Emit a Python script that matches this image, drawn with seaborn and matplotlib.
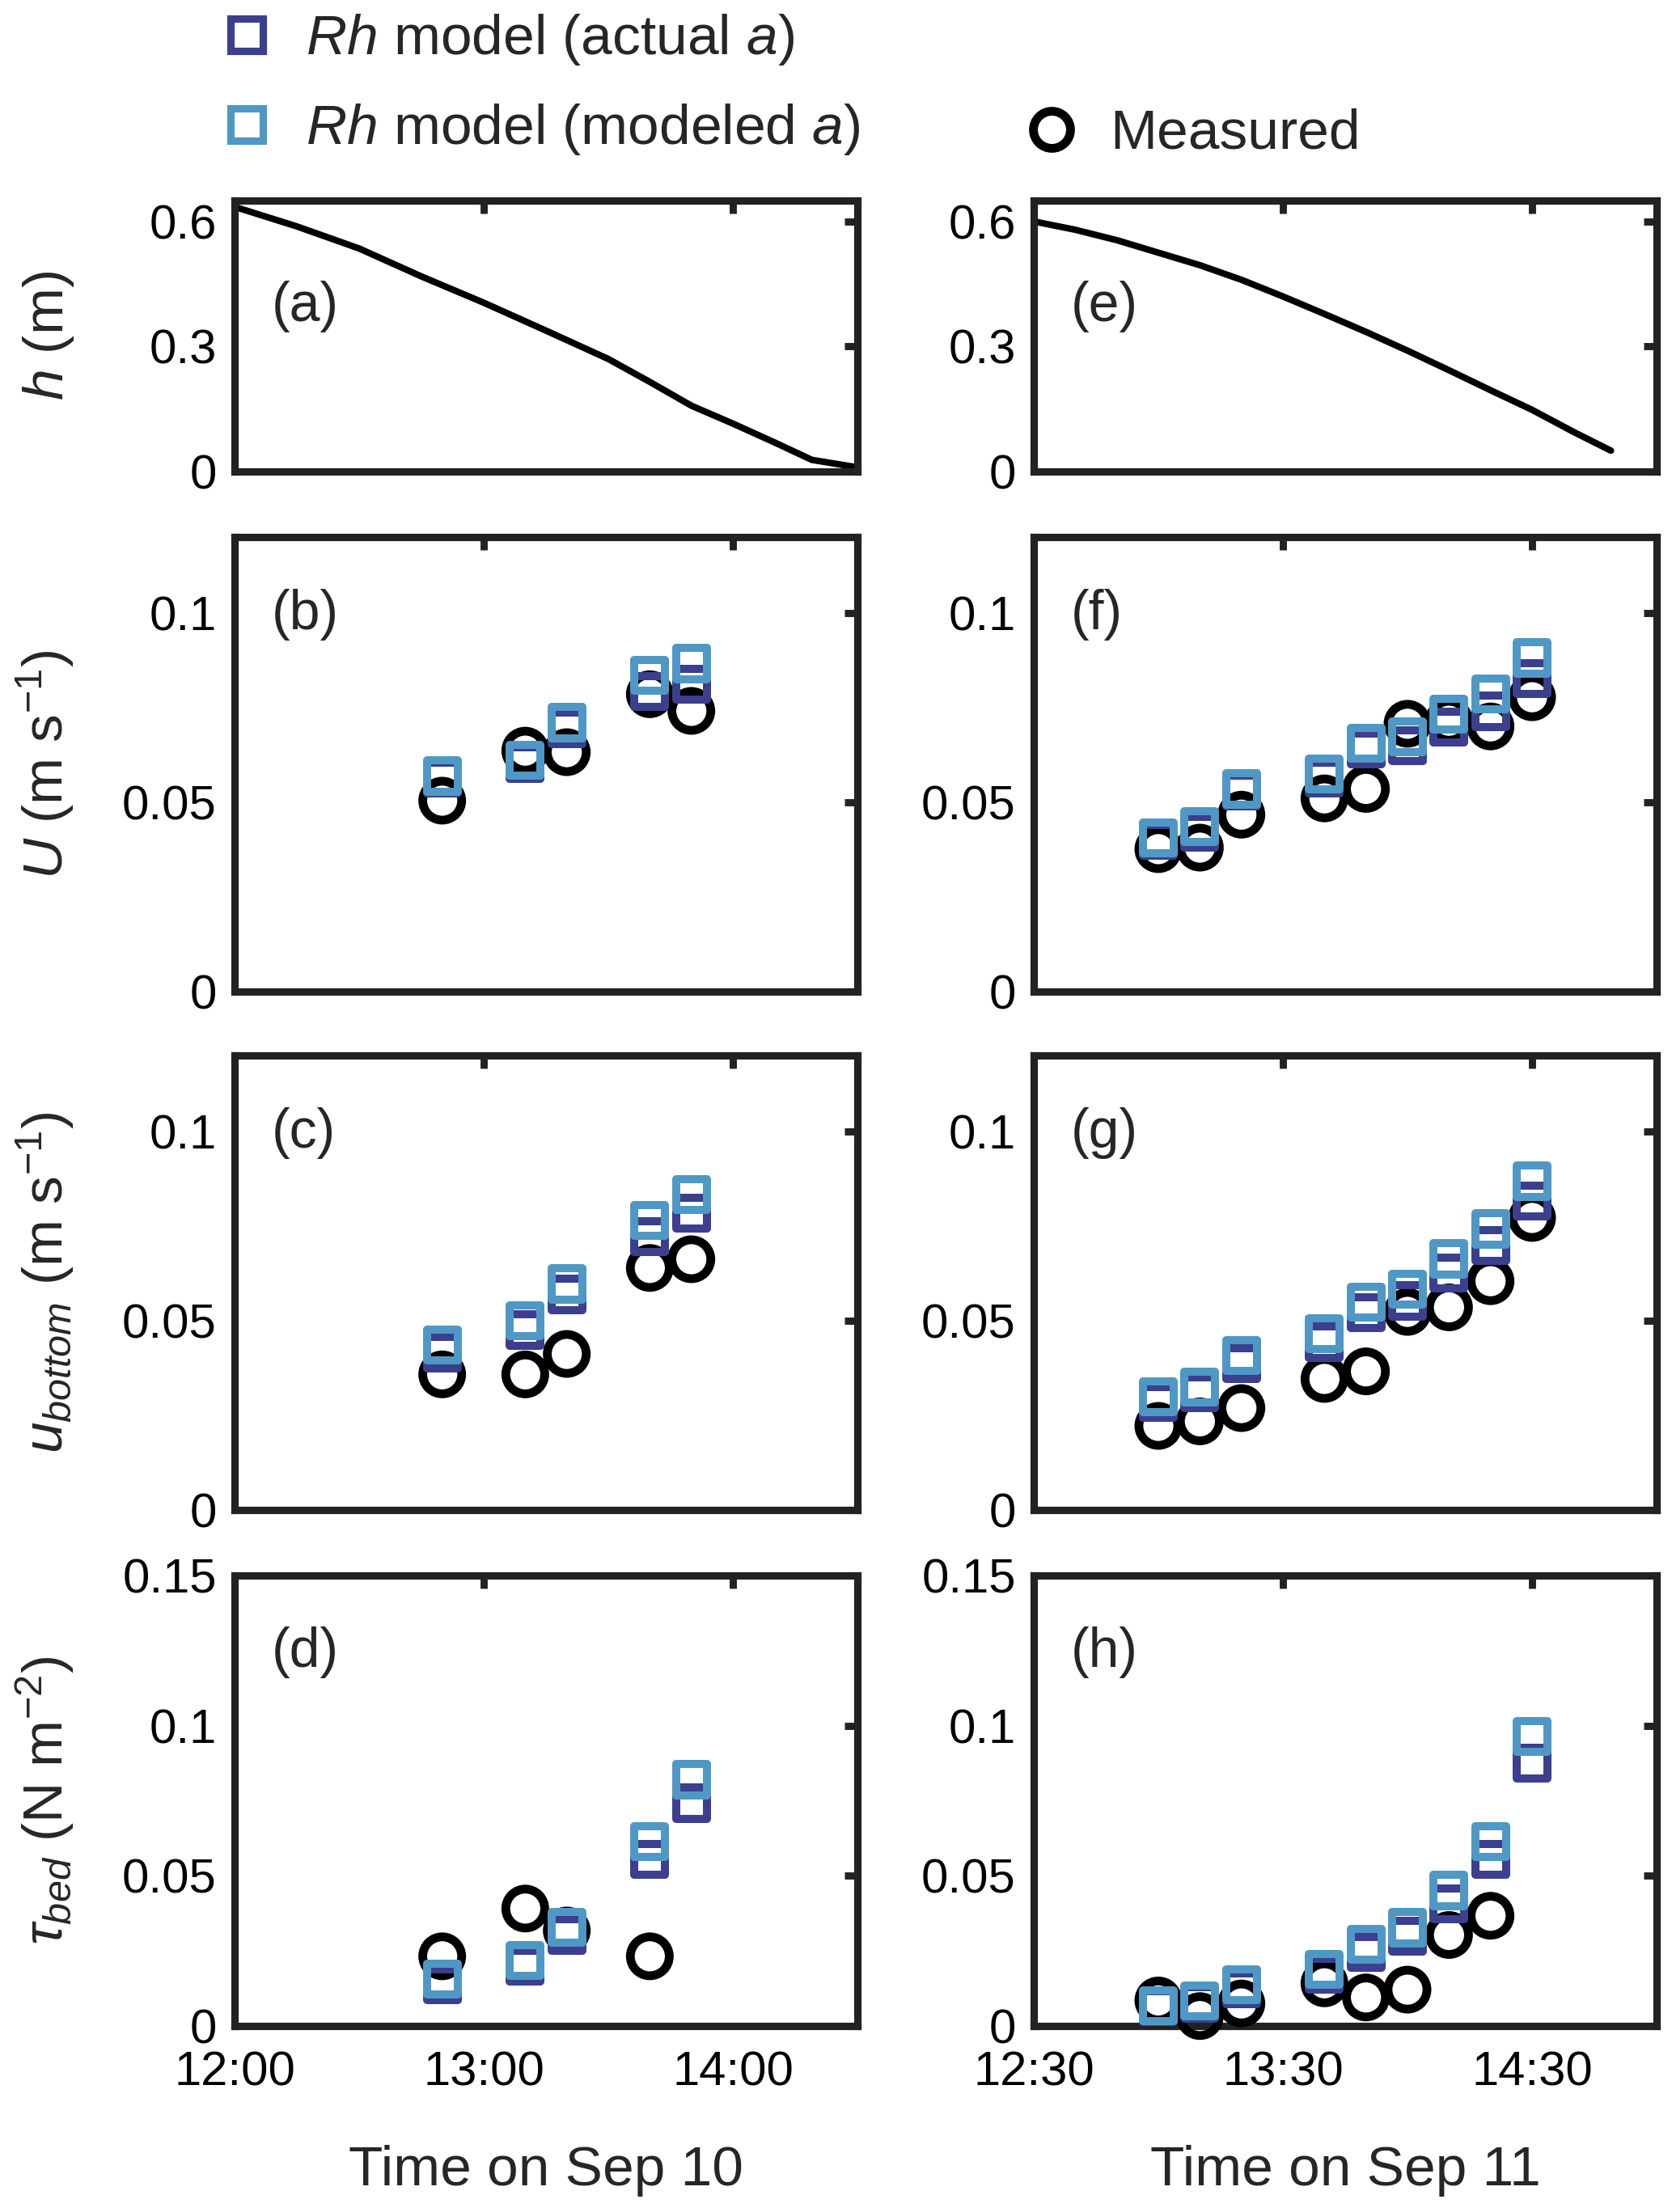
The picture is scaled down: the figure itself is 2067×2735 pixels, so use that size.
import numpy as np
import pandas as pd
import matplotlib
matplotlib.use('Agg')
import matplotlib.pyplot as plt
import matplotlib.dates as mdates
from matplotlib.lines import Line2D
import seaborn as sns

# ---------------- data ----------------
h_times_sep10 = ['12:00', '12:15', '12:30', '12:45', '13:00', '13:15', '13:30',
                 '13:40', '13:50', '14:00', '14:10', '14:19', '14:30']
h_sep10 = [0.635, 0.588, 0.535, 0.468, 0.405, 0.338, 0.270,
           0.215, 0.158, 0.115, 0.070, 0.028, 0.010]
h_times_sep11 = ['12:30', '12:40', '12:50', '13:00', '13:10', '13:20', '13:30',
                 '13:40', '13:50', '14:00', '14:10', '14:20', '14:30', '14:40', '14:49']
h_sep11 = [0.600, 0.580, 0.555, 0.525, 0.495, 0.460, 0.420,
           0.378, 0.335, 0.290, 0.243, 0.195, 0.148, 0.095, 0.050]

obs_times_sep10 = ['12:50', '13:10', '13:20', '13:40', '13:50']
obs_times_sep11 = ['13:00', '13:10', '13:20', '13:40', '13:50', '14:00', '14:10', '14:20', '14:30']

U_meas_10 = [0.0504, 0.0636, 0.0632, 0.0785, 0.0741]
U_act_10 = [0.0563, 0.0603, 0.0695, 0.0792, 0.0812]
U_mod_10 = [0.0569, 0.0610, 0.0710, 0.0835, 0.0866]
U_meas_11 = [0.0376, 0.0380, 0.0467, 0.0510, 0.0535, 0.0707, 0.0715, 0.0700, 0.0777]
U_act_11 = [0.0400, 0.0420, 0.0529, 0.0564, 0.0640, 0.0649, 0.0698, 0.0740, 0.0826]
U_mod_11 = [0.0405, 0.0435, 0.0535, 0.0574, 0.0655, 0.0672, 0.0733, 0.0786, 0.0881]

ub_meas_10 = [0.0358, 0.0358, 0.0412, 0.0639, 0.0662]
ub_act_10 = [0.0415, 0.0475, 0.0569, 0.0721, 0.0783]
ub_mod_10 = [0.0436, 0.0500, 0.0597, 0.0765, 0.0833]
ub_meas_11 = [0.0222, 0.0234, 0.0269, 0.0346, 0.0366, 0.0523, 0.0535, 0.0604, 0.0771]
ub_act_11 = [0.0284, 0.0309, 0.0387, 0.0443, 0.0521, 0.0552, 0.0625, 0.0698, 0.0816]
ub_mod_11 = [0.0299, 0.0325, 0.0408, 0.0465, 0.0548, 0.0583, 0.0663, 0.0742, 0.0868]

tau_meas_10 = [0.0232, 0.0391, 0.0318, 0.0232, np.nan]
tau_act_10 = [0.0137, 0.0199, 0.0303, 0.0554, 0.0742]
tau_mod_10 = [0.0157, 0.0218, 0.0329, 0.0614, 0.0820]
tau_meas_11 = [0.0085, 0.0033, 0.0075, 0.0142, 0.0095, 0.0121, 0.0303, 0.0367, np.nan]
tau_act_11 = [0.0064, 0.0077, 0.0124, 0.0173, 0.0246, 0.0298, 0.0407, 0.0554, 0.0876]
tau_mod_11 = [0.0067, 0.0083, 0.0137, 0.0189, 0.0272, 0.0327, 0.0451, 0.0614, 0.0964]

panel_letters = [['(a)', '(b)', '(c)', '(d)'], ['(e)', '(f)', '(g)', '(h)']]
ylabels = [r'$h$ (m)', r'$U$ (m s$^{-1}$)', r'$u_{bottom}$ (m s$^{-1}$)', r'$\tau_{bed}$ (N m$^{-2}$)']
xlabels = ['Time on Sep 10', 'Time on Sep 11']
legend_labels = [r'$Rh$ model (actual $a$)', r'$Rh$ model (modeled $a$)', 'Measured']
xtick_labels = [['12:00', '13:00', '14:00'], ['12:30', '13:30', '14:30']]
xlims = [('12:00', '14:30'), ('12:30', '15:00')]
dates = ['2000-09-10', '2000-09-11']
ylims = [0.65, 0.12, 0.12, 0.15]
yticks = [[0, 0.3, 0.6], [0, 0.05, 0.1], [0, 0.05, 0.1], [0, 0.05, 0.1, 0.15]]
ytick_labels = [['0', '0.3', '0.6'], ['0', '0.05', '0.1'], ['0', '0.05', '0.1'],
                ['0', '0.05', '0.1', '0.15']]

# ---------------- style ----------------
sns.set_theme(style='white')
plt.rcParams['font.family'] = ['Liberation Sans', 'DejaVu Sans']
plt.rcParams['mathtext.fontset'] = 'custom'
plt.rcParams['mathtext.rm'] = 'Liberation Sans'
plt.rcParams['mathtext.it'] = 'Liberation Sans:italic'
plt.rcParams['mathtext.bf'] = 'Liberation Sans:bold'

DARK = '#3b3f8e'
LIGHT = '#4f98c5'
SPINE = '#222222'

W, H = 2067, 2735
DPI = 200
fig = plt.figure(figsize=(W / DPI, H / DPI), dpi=DPI)

rows_px = [(248, 583), (664, 1226), (1305, 1867), (1948, 2505)]
cols_px = [(290, 1060), (1278, 2048)]


def tt(day, times):
    return pd.to_datetime([day + ' ' + t for t in times])


series = [
    [None, (U_meas_10, U_act_10, U_mod_10), (ub_meas_10, ub_act_10, ub_mod_10),
     (tau_meas_10, tau_act_10, tau_mod_10)],
    [None, (U_meas_11, U_act_11, U_mod_11), (ub_meas_11, ub_act_11, ub_mod_11),
     (tau_meas_11, tau_act_11, tau_mod_11)],
]
h_series = [(h_times_sep10, h_sep10), (h_times_sep11, h_sep11)]
obs_times = [obs_times_sep10, obs_times_sep11]

for c in range(2):
    x0, x1 = cols_px[c]
    day = dates[c]
    for r in range(4):
        y0, y1 = rows_px[r]
        ax = fig.add_axes([x0 / W, 1 - y1 / H, (x1 - x0) / W, (y1 - y0) / H])
        if r == 0:
            ht, hv = h_series[c]
            sns.lineplot(x=tt(day, ht), y=hv, ax=ax, color='black', lw=2.9)
        else:
            meas, act, mod = series[c][r]
            xt = tt(day, obs_times[c])
            sns.scatterplot(x=xt, y=meas, ax=ax, marker='o', s=300,
                            facecolor='none', edgecolor='black', linewidth=3.9,
                            legend=False, clip_on=False, zorder=3)
            sns.scatterplot(x=xt, y=act, ax=ax, marker='s', s=190,
                            facecolor='none', edgecolor=DARK, linewidth=3.6,
                            legend=False, clip_on=False, zorder=4)
            sns.scatterplot(x=xt, y=mod, ax=ax, marker='s', s=190,
                            facecolor='none', edgecolor=LIGHT, linewidth=3.6,
                            legend=False, clip_on=False, zorder=5)
        lo, hi = xlims[c]
        ax.set_xlim(pd.Timestamp(day + ' ' + lo), pd.Timestamp(day + ' ' + hi))
        ax.set_xticks(list(tt(day, xtick_labels[c])))
        ax.xaxis.set_major_formatter(mdates.DateFormatter('%H:%M'))
        ax.set_ylim(0, ylims[r])
        ax.set_yticks(yticks[r])
        ax.set_yticklabels(ytick_labels[r])
        ax.tick_params(direction='in', length=5.6, width=3.2, color=SPINE,
                       top=True, right=True, labelsize=21.5, pad=8,
                       labelcolor='black')
        ax.tick_params(axis='x', pad=11)
        for sp in ax.spines.values():
            sp.set_linewidth(3.3)
            sp.set_color(SPINE)
        if r < 3:
            ax.tick_params(labelbottom=False)
            ax.set_xlabel('')
        else:
            ax.set_xlabel(xlabels[c], fontsize=25, labelpad=22)
        if c == 0:
            ax.set_ylabel(ylabels[r], fontsize=25)
            ax.yaxis.set_label_coords(-0.255, 0.5)
        else:
            ax.set_ylabel('')
        ax.text(0.06, 0.61 if r == 0 else 0.83, panel_letters[c][r],
                transform=ax.transAxes, ha='left', va='center', fontsize=24.5)

# ---------------- legends ----------------
handles = [
    Line2D([], [], ls='none', marker='s', ms=14.5, mfc='none', mec=DARK, mew=3.3),
    Line2D([], [], ls='none', marker='s', ms=14.5, mfc='none', mec=LIGHT, mew=3.3),
    Line2D([], [], ls='none', marker='o', ms=16.5, mfc='none', mec='black', mew=3.9),
]
anchors = [(270 / W, 1 - 49 / H), (270 / W, 1 - 160 / H), (1265 / W, 1 - 166 / H)]
for hdl, lab, anc in zip(handles, legend_labels, anchors):
    fig.legend(handles=[hdl], labels=[lab], loc='center left', bbox_to_anchor=anc,
               frameon=False, fontsize=25, borderpad=0, borderaxespad=0,
               handlelength=1.0, handletextpad=0.55)

fig.savefig('out.png', dpi=DPI, facecolor='white')
